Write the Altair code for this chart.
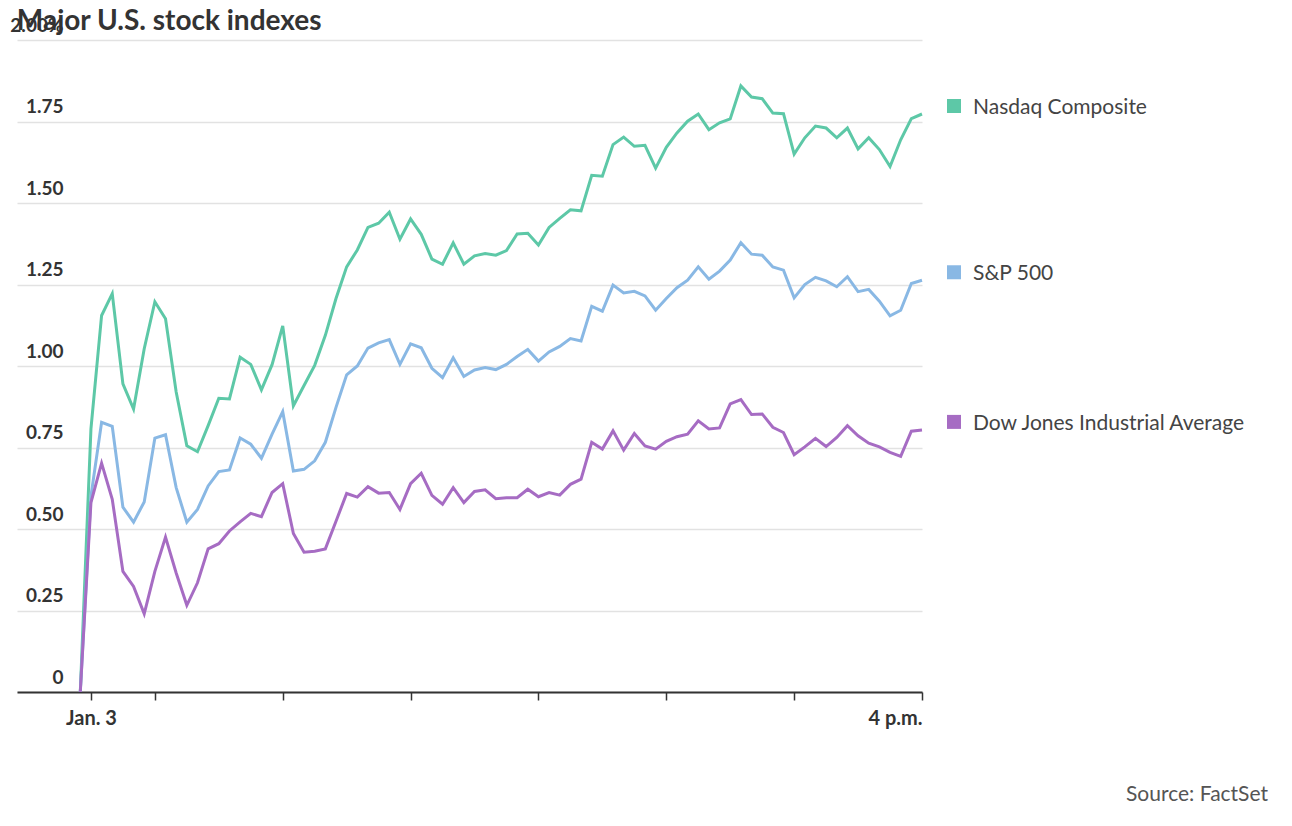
import altair as alt
import pandas as pd

# minutes since midnight (9:25 start, then 9:30 .. 16:00 every 5 min)
times = [565] + list(range(570, 961, 5))

nasdaq = [0.0,
    0.807, 1.155, 1.222, 0.945, 0.868, 1.053, 1.197, 1.145, 0.920, 0.755, 0.737, 0.817, 0.901, 0.899,
    1.027, 1.005, 0.927, 1.004, 1.123,
    0.878, 0.940, 1.002, 1.094, 1.207, 1.304, 1.356, 1.425, 1.438, 1.472, 1.389, 1.451,
    1.404, 1.328, 1.312, 1.378, 1.312, 1.338, 1.345, 1.340,
    1.354, 1.405, 1.407, 1.371, 1.425, 1.453, 1.479, 1.476, 1.585, 1.582, 1.679, 1.702,
    1.674, 1.677, 1.607, 1.671, 1.715, 1.751, 1.773, 1.725,
    1.746, 1.758, 1.859, 1.825, 1.820, 1.776, 1.774, 1.650, 1.700, 1.736, 1.730, 1.700,
    1.730, 1.666, 1.700, 1.664, 1.612, 1.694, 1.759, 1.773]

sp500 = [0.0,
    0.601, 0.827, 0.815, 0.567, 0.521, 0.583, 0.779, 0.789, 0.627, 0.521, 0.560, 0.632, 0.676, 0.681,
    0.779, 0.760, 0.717, 0.791, 0.860,
    0.678, 0.683, 0.709, 0.766, 0.873, 0.973, 1.000, 1.055, 1.071, 1.081, 1.005, 1.068,
    1.056, 0.993, 0.964, 1.025, 0.968, 0.988, 0.995, 0.989,
    1.005, 1.029, 1.051, 1.015, 1.043, 1.060, 1.084, 1.077, 1.183, 1.168, 1.248, 1.224,
    1.229, 1.215, 1.171, 1.207, 1.240, 1.263, 1.304, 1.266,
    1.291, 1.325, 1.378, 1.343, 1.340, 1.304, 1.294, 1.209, 1.250, 1.272, 1.261, 1.243,
    1.274, 1.228, 1.235, 1.199, 1.154, 1.171, 1.253, 1.263]

dow = [0.0,
    0.581, 0.702, 0.591, 0.370, 0.324, 0.240, 0.370, 0.475, 0.365, 0.266, 0.335, 0.439, 0.455, 0.494,
    0.522, 0.548, 0.538, 0.612, 0.639,
    0.486, 0.429, 0.432, 0.439, 0.524, 0.609, 0.598, 0.630, 0.610, 0.612, 0.560, 0.639,
    0.671, 0.603, 0.576, 0.627, 0.581, 0.615, 0.620, 0.593,
    0.596, 0.596, 0.622, 0.599, 0.612, 0.604, 0.637, 0.653, 0.766, 0.745, 0.801, 0.742,
    0.793, 0.755, 0.745, 0.769, 0.783, 0.791, 0.832, 0.807,
    0.810, 0.884, 0.897, 0.851, 0.853, 0.812, 0.796, 0.728, 0.752, 0.778, 0.753, 0.781,
    0.817, 0.786, 0.763, 0.752, 0.735, 0.723, 0.800, 0.804]

series_names = ["Nasdaq Composite", "S&P 500", "Dow Jones Industrial Average"]
series_colors = ["#5dc8a7", "#89b8e4", "#a66cc3"]
x_tick_values = [570, 600, 660, 720, 780, 840, 900, 960]
y_tick_values = [0, 0.25, 0.5, 0.75, 1.0, 1.25, 1.5, 1.75, 2.0]

rows = []
for name, vals in zip(series_names, [nasdaq, sp500, dow]):
    for t, v in zip(times, vals):
        rows.append({"t": t, "value": v, "series": name})
df = pd.DataFrame(rows)

W, H = 905, 652
PAD_L, PAD_T = 9, 32
FONT = "Lato"

color = alt.Color("series:N", scale=alt.Scale(domain=series_names, range=series_colors), legend=None)

x = alt.X("t:Q", scale=alt.Scale(domain=[535.3, 960], nice=False, zero=False),
          axis=alt.Axis(values=x_tick_values, title=None, grid=False,
                        labelExpr="datum.value == 570 ? 'Jan. 3' : datum.value == 960 ? '4 p.m.' : ''",
                        labelFlush=True, labelFont=FONT, labelFontSize=20, labelFontWeight="bold",
                        labelColor="#333333", labelPadding=8,
                        domainColor="#333333", domainWidth=2, tickColor="#333333",
                        tickSize=8, tickWidth=1.5))
y = alt.Y("value:Q", scale=alt.Scale(domain=[0, 2], nice=False),
          axis=alt.Axis(values=y_tick_values, title=None, grid=True, gridColor="#e2e2e2",
                        gridWidth=1.5, domain=False, ticks=False, tickSize=0,
                        labelExpr="datum.value == 2 ? '2.00%' : datum.value == 0 ? '0' : format(datum.value, '.2f')",
                        labelAlign="right", labelPadding=-46, labelBaseline="alphabetic",
                        labelOffset=-9, labelFont=FONT, labelFontSize=19, labelFontWeight="bold",
                        labelColor="#333333"))

base = alt.Chart(df)
lines = base.mark_line(strokeWidth=3).encode(x=x, y=y, color=color, detail="series:N")

ends = base.transform_filter(alt.datum.t == 960)
squares = ends.mark_square(size=196, opacity=1, xOffset=32, yOffset=-8).encode(
    x="t:Q", y="value:Q", color=color)
labels = ends.mark_text(align="left", baseline="alphabetic", dx=51, font=FONT,
                        fontSize=21, color="#444444").encode(x="t:Q", y="value:Q", text="series:N")

source = alt.Chart(pd.DataFrame({"s": ["Source: FactSet"]})).mark_text(
    align="right", baseline="middle", font=FONT, fontSize=21, color="#555555").encode(
    x=alt.value(1251), y=alt.value(755), text="s:N")

chart = alt.layer(lines, squares, labels, source).properties(
    width=W, height=H,
    autosize=alt.AutoSizeParams(type="none"),
    padding={"left": PAD_L, "top": PAD_T, "right": 362, "bottom": 126},
    title=alt.TitleParams("Major U.S. stock indexes", anchor="start", font=FONT, fontSize=28,
                          fontWeight="bold", color="#333333", offset=0, dy=20, dx=7),
).configure_view(stroke=None)

chart.save("out.html", embed_options={"renderer": "svg", "actions": False})
